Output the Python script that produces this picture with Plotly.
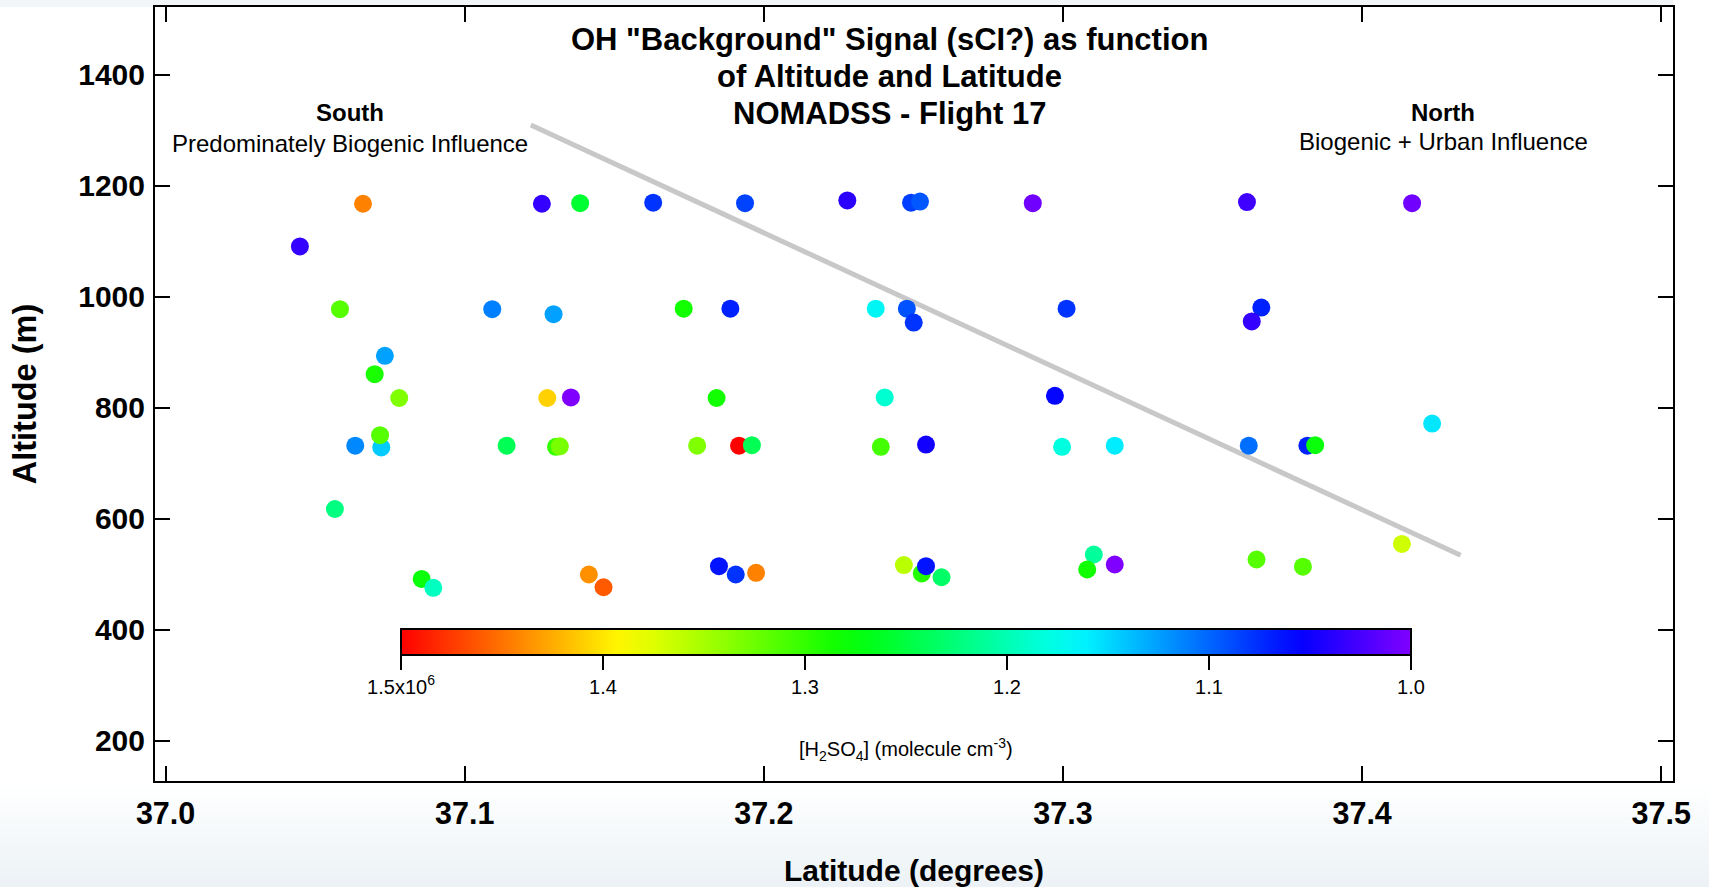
import colorsys
import plotly.graph_objects as go

# Flight 17 samples: latitude (deg), altitude (m), [H2SO4] (molecule cm^-3)
latitude = [
    37.0660, 37.1258, 37.1386, 37.1630, 37.0449, 37.0583, 37.1092, 37.1297,
    37.0733, 37.0699, 37.0781, 37.1276, 37.1355, 37.0721, 37.0717, 37.0634,
    37.1140, 37.1305, 37.1318, 37.0566, 37.0856, 37.0895, 37.1415, 37.1464,
    37.1937, 37.2279, 37.2492, 37.2522, 37.2899, 37.1732, 37.1888, 37.2374,
    37.2478, 37.2501, 37.1842, 37.2404, 37.1777, 37.1917, 37.1960, 37.2391,
    37.2542, 37.1850, 37.1906, 37.1974, 37.2468, 37.2528, 37.2542, 37.2594,
    37.3615, 37.4167, 37.3012, 37.3663, 37.3631, 37.2973, 37.2997, 37.3173,
    37.3621, 37.3817, 37.3843, 37.4234, 37.3103, 37.3081, 37.3173, 37.3647,
    37.3802, 37.4133,
]
altitude = [
    1168, 1168, 1169, 1170, 1091, 978, 978, 969,
    894, 861, 818, 818, 819, 729, 751, 732,
    732, 730, 731, 618, 492, 476, 500, 477,
    1169, 1174, 1170, 1172, 1169, 979, 979, 979,
    979, 954, 818, 819, 732, 732, 733, 730,
    734, 515, 500, 503, 517, 502, 515, 495,
    1171, 1169, 979, 981, 956, 822, 730, 732,
    732, 732, 733, 772, 536, 509, 518, 527,
    514, 555,
]
h2so4 = [
    1.444e6, 1.033e6, 1.256e6, 1.078e6, 1.033e6, 1.315e6, 1.111e6, 1.126e6,
    1.126e6, 1.289e6, 1.333e6, 1.409e6, 1.000e6, 1.144e6, 1.315e6, 1.115e6,
    1.241e6, 1.300e6, 1.330e6, 1.222e6, 1.278e6, 1.194e6, 1.437e6, 1.461e6,
    1.085e6, 1.037e6, 1.083e6, 1.093e6, 1.007e6, 1.285e6, 1.070e6, 1.167e6,
    1.091e6, 1.078e6, 1.285e6, 1.187e6, 1.333e6, 1.500e6, 1.241e6, 1.307e6,
    1.048e6, 1.063e6, 1.078e6, 1.444e6, 1.359e6, 1.293e6, 1.063e6, 1.233e6,
    1.028e6, 1.007e6, 1.078e6, 1.070e6, 1.033e6, 1.056e6, 1.181e6, 1.159e6,
    1.104e6, 1.070e6, 1.278e6, 1.156e6, 1.211e6, 1.285e6, 1.000e6, 1.315e6,
    1.315e6, 1.367e6,
]

# South/north boundary line
boundary_lat = [37.1221, 37.4329]
boundary_alt = [1310, 534.5]

# Colour bar ticks
cbar_vals = [1.5e6, 1.4e6, 1.3e6, 1.2e6, 1.1e6, 1.0e6]
cbar_text = ["1.5x10<sup>6</sup>", "1.4", "1.3", "1.2", "1.1", "1.0"]

x_ticks = [37.0, 37.1, 37.2, 37.3, 37.4, 37.5]
y_ticks = [200, 400, 600, 800, 1000, 1200, 1400]

title_lines = ['OH "Background" Signal (sCI?) as function',
               "of Altitude and Latitude",
               "NOMADSS - Flight 17"]

W, H = 1709, 887
ML, MR, MT, MB = 155, 36, 7, 106
PW, PH = W - ML - MR, H - MT - MB

FONT = "Liberation Sans, Arial, Helvetica, sans-serif"


def px_x(px):
    return (px - ML) / PW


def px_y(py):
    return (H - MB - py) / PH


# Rainbow table: hue runs red (0 deg) -> violet (270 deg).
# Colour axis is negated so that high concentration sits on the left.
n_stops = 28
rainbow = []
for i in range(n_stops + 1):
    t = i / n_stops
    r, g, b = colorsys.hsv_to_rgb(0.75 * t, 1.0, 1.0)
    rainbow.append([t, f"rgb({round(r * 255)},{round(g * 255)},{round(b * 255)})"])

fig = go.Figure()

fig.add_trace(go.Scatter(
    x=boundary_lat, y=boundary_alt, mode="lines",
    line=dict(color="#c8c8c8", width=5), hoverinfo="skip", showlegend=False,
))

fig.add_trace(go.Scatter(
    x=latitude, y=altitude, mode="markers", showlegend=False,
    customdata=h2so4,
    hovertemplate="%{x:.4f}°, %{y} m<br>%{customdata:.3s}<extra></extra>",
    marker=dict(
        size=18, line=dict(width=0),
        color=[-v for v in h2so4], colorscale=rainbow,
        cmin=-max(cbar_vals), cmax=-min(cbar_vals),
        colorbar=dict(
            orientation="h",
            lenmode="pixels", len=1010,
            thicknessmode="pixels", thickness=26,
            x=px_x(401), xanchor="left", xpad=0,
            y=px_y(629), yanchor="top", ypad=0,
            outlinecolor="black", outlinewidth=2,
            tickvals=[-v for v in cbar_vals], ticktext=cbar_text,
            ticks="outside", ticklen=14, tickwidth=1.5, tickcolor="black",
            tickfont=dict(family=FONT, size=20, color="black"),
            bgcolor="rgba(0,0,0,0)",
        ),
    ),
))

axis_common = dict(
    showline=True, linecolor="black", linewidth=2, mirror="ticks",
    ticks="inside", ticklen=15, tickwidth=1.5, tickcolor="black",
    showgrid=False, zeroline=False,
)

fig.update_xaxes(
    range=[36.99646, 37.50392], tickvals=x_ticks, tickformat=".1f",
    ticklabelstandoff=4,
    tickfont=dict(family=FONT, size=30.5, color="black", weight="bold"),
    title=dict(text="Latitude (degrees)", standoff=40,
               font=dict(family=FONT, size=30, color="black", weight="bold")),
    **axis_common,
)
fig.update_yaxes(
    range=[127.9, 1522.5], tickvals=y_ticks,
    ticklabelstandoff=2,
    tickfont=dict(family=FONT, size=30, color="black", weight="bold"),
    title=dict(text="Altitude (m)", standoff=32,
               font=dict(family=FONT, size=32.5, color="black", weight="bold")),
    **axis_common,
)

annotations = [
    dict(text=title_lines[0], x=px_x(889), y=px_y(39), font=dict(size=31, weight="bold")),
    dict(text=title_lines[1], x=px_x(889), y=px_y(77), font=dict(size=31, weight="bold")),
    dict(text=title_lines[2], x=px_x(889), y=px_y(114), font=dict(size=31, weight="bold")),
    dict(text="South", x=px_x(350), y=px_y(113), font=dict(size=24, weight="bold")),
    dict(text="Predominately Biogenic Influence", x=px_x(350), y=px_y(143),
         font=dict(size=24)),
    dict(text="North", x=px_x(1443), y=px_y(112), font=dict(size=24, weight="bold")),
    dict(text="Biogenic + Urban Influence", x=px_x(1443), y=px_y(141),
         font=dict(size=24)),
    # colour-bar caption
    dict(text="[H<sub>2</sub>SO<sub>4</sub>] (molecule cm<sup>-3</sup>)",
         x=px_x(906), y=px_y(749), font=dict(size=20)),
]
for a in annotations:
    a.update(xref="paper", yref="paper", xanchor="center", yanchor="middle",
             showarrow=False)
    a["font"].update(family=FONT, color="black")

# Page backdrop: thin grey strip on top, soft blue-grey fade at the bottom
shapes = [dict(type="rect", xref="paper", yref="paper", layer="below",
               x0=px_x(0), x1=px_x(1673), y0=px_y(7), y1=px_y(0),
               fillcolor="#f3f6f8", line=dict(width=0))]
top_c, bot_c = (255, 255, 255), (236, 242, 246)
n_band = 16
y_start, y_end = 784, H
for i in range(n_band):
    f = (i + 0.5) / n_band
    c = tuple(round(top_c[k] + (bot_c[k] - top_c[k]) * f) for k in range(3))
    y0 = y_start + (y_end - y_start) * i / n_band
    y1 = y_start + (y_end - y_start) * (i + 1) / n_band
    shapes.append(dict(type="rect", xref="paper", yref="paper", layer="below",
                       x0=px_x(0), x1=px_x(W), y0=px_y(y1 + 0.5), y1=px_y(y0),
                       fillcolor=f"rgb{c}", line=dict(width=0)))

fig.update_layout(
    width=W, height=H,
    margin=dict(l=ML, r=MR, t=MT, b=MB, autoexpand=False),
    paper_bgcolor="white", plot_bgcolor="white",
    annotations=annotations, shapes=shapes,
    font=dict(family=FONT, color="black"),
)

fig.write_html("out.html")
